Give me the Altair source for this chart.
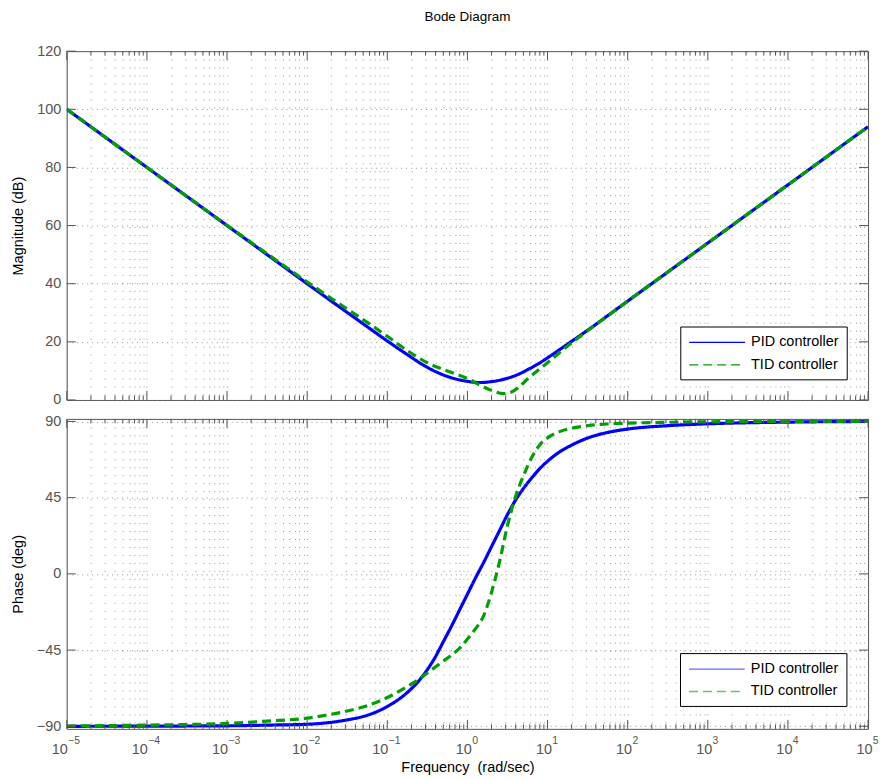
import altair as alt
import pandas as pd

# ---------------- data ----------------
series_names = ["PID controller", "TID controller"]
series_colors = ["#0000ff", "#00a000"]
series_dash = [[1, 0], [9, 5]]

# magnitude (dB) vs log10(frequency)
mag_logw = [-5, -4, -3, -2.5, -2, -1.5, -1.25, -1, -0.75, -0.5, -0.25, 0, 0.15, 0.3,
            0.45, 0.55, 0.65, 0.75, 0.9, 1.0, 1.25, 1.5, 2, 3, 4, 5]
pid_mag = [100, 80, 60, 50.0, 40.0, 30.1, 25.2, 20.3, 15.6, 11.2, 8.1, 6.4, 6.0, 6.3,
           7.1, 7.9, 9.0, 10.4, 12.7, 14.5, 19.2, 24.0, 34.0, 54.0, 74.0, 94.0]
tid_mag = [100, 80, 60.1, 50.3, 40.6, 31.3, 26.7, 21.9, 17.0, 12.8, 10.0, 7.4, 5.2, 3.3,
           2.2, 2.7, 4.6, 7.2, 10.6, 12.8, 18.6, 23.8, 34.0, 54.0, 74.0, 94.0]

# phase (deg) vs log10(frequency)
phase_logw = [-5, -4, -3, -2.5, -2, -1.75, -1.5, -1.25, -1, -0.75, -0.6, -0.5, -0.4, -0.3,
              -0.2, -0.1, 0, 0.1, 0.2, 0.3, 0.4, 0.5, 0.6, 0.7, 0.8, 0.9, 1.0, 1.15, 1.3,
              1.5, 1.75, 2, 2.5, 3, 4, 5]
pid_phase = [-90, -89.9, -89.7, -89.3, -88.8, -87.9, -86.2, -83.5, -78.3, -70.0, -62.8, -56.5,
             -49.0, -40.0, -31.0, -21.5, -12.0, -2.5, 6.5, 16, 25.5, 35.0, 43.5, 50.5, 56.5,
             62, 66.5, 72, 76, 80.2, 83.5, 85.5, 87.5, 88.6, 89.6, 90]
tid_phase = [-89.8, -89.3, -88.3, -86.9, -85.2, -83.3, -81.0, -77.8, -73.0, -66.5, -62.0,
             -58.5, -55.0, -51.5, -48.0, -44.0, -38.5, -32.5, -25.0, -11.0, 7.0, 28.5, 45.5,
             58.0, 68.5, 76.0, 80.3, 84.0, 86.0, 87.5, 88.5, 89.0, 89.5, 89.8, 90.0, 90.0]

decade_exps = list(range(-5, 6))
tick_base = "10"
tick_exponents = ["−5", "−4", "−3", "−2", "−1", "0", "1", "2", "3", "4", "5"]
minor_mults = [2, 3, 4, 5, 6, 7, 8, 9]
mag_ticks = [0, 20, 40, 60, 80, 100, 120]
phase_ticks = [-90, -45, 0, 45, 90]

# ---------------- tables ----------------
x_major = [10.0 ** e for e in decade_exps]
x_minor = [m * 10.0 ** e for e in decade_exps[:-1] for m in minor_mults]
x_all = sorted(x_major + x_minor)

mag_df = pd.DataFrame({
    "w": [10.0 ** e for e in mag_logw] * 2,
    "val": pid_mag + tid_mag,
    "series": [series_names[0]] * len(mag_logw) + [series_names[1]] * len(mag_logw),
})
phase_df = pd.DataFrame({
    "w": [10.0 ** e for e in phase_logw] * 2,
    "val": pid_phase + tid_phase,
    "series": [series_names[0]] * len(phase_logw) + [series_names[1]] * len(phase_logw),
})
label_df = pd.DataFrame({
    "w": x_major,
    "base": [tick_base] * len(x_major),
    "exp": tick_exponents,
    "neg": [e < 0 for e in decade_exps],
})

# ---------------- style ----------------
FONT = "Liberation Sans"
FRAME = "#555555"
GRID = "#777777"
LABEL = "#555555"
W = 804
H1 = 350
H2 = 311

x_scale = alt.Scale(type="log", domain=[1e-5, 1e5], nice=False)


def legend(lx, ly, opacity):
    return alt.Legend(
        title=None, orient="none", legendX=lx, legendY=ly, direction="vertical",
        fillColor="white", strokeColor="black", padding=8, rowPadding=7.5,
        cornerRadius=0, labelFont=FONT, labelFontSize=14.5, labelColor="black",
        labelOffset=47, symbolType="M-1,0H7", symbolSize=196, symbolStrokeWidth=1.3,
        symbolOpacity=opacity, offset=0,
    )


def panel(df, height, yscale, yvals, ytitle, xaxis, leg, with_labels=False):
    yaxis = alt.Axis(values=yvals, grid=True, gridDash=[1, 4], gridColor=GRID,
                     gridOpacity=0.75, title=ytitle, titleX=-48.7, titleY=height / 2,
                     titleBaseline="middle", titleAngle=-90)
    line = alt.Chart(df).mark_line(strokeWidth=3.2, interpolate="monotone", clip=True).encode(
        x=alt.X("w:Q", scale=x_scale, axis=xaxis),
        y=alt.Y("val:Q", scale=yscale, axis=yaxis),
        color=alt.Color("series:N", scale=alt.Scale(domain=series_names, range=series_colors),
                        legend=leg),
        strokeDash=alt.StrokeDash("series:N", scale=alt.Scale(domain=series_names, range=series_dash),
                                  legend=leg),
    )
    layers = [line]
    maj = pd.DataFrame({"w": x_major})
    mnr = pd.DataFrame({"w": x_minor})
    for tdf, L in [(maj, 9), (mnr, 4.5)]:
        layers.append(alt.Chart(tdf).mark_rule(color=FRAME, strokeWidth=1).encode(
            x=alt.X("w:Q", scale=x_scale, axis=xaxis),
            y=alt.value(0), y2=alt.value(L)))
        layers.append(alt.Chart(tdf).mark_rule(color=FRAME, strokeWidth=1).encode(
            x=alt.X("w:Q", scale=x_scale, axis=xaxis),
            y=alt.value(height), y2=alt.value(height - L)))
    ydf = pd.DataFrame({"val": yvals})
    layers.append(alt.Chart(ydf).mark_rule(color=FRAME, strokeWidth=1).encode(
        y=alt.Y("val:Q", scale=yscale, axis=yaxis), x=alt.value(0), x2=alt.value(9)))
    layers.append(alt.Chart(ydf).mark_rule(color=FRAME, strokeWidth=1).encode(
        y=alt.Y("val:Q", scale=yscale, axis=yaxis), x=alt.value(W), x2=alt.value(W - 9)))
    if with_labels:
        # "10" with a raised exponent, MATLAB style
        for neg, shift in [(True, 1), (False, 4.5)]:
            sub = label_df[label_df["neg"] == neg]
            layers.append(alt.Chart(sub).mark_text(
                align="right", baseline="alphabetic", font=FONT, fontSize=14.5,
                color=LABEL, dx=shift).encode(
                x=alt.X("w:Q", scale=x_scale, axis=xaxis),
                y=alt.value(height + 24.8), text="base:N"))
            layers.append(alt.Chart(sub).mark_text(
                align="left", baseline="alphabetic", font=FONT, fontSize=10.5,
                color=LABEL, dx=shift + 0.3).encode(
                x=alt.X("w:Q", scale=x_scale, axis=xaxis),
                y=alt.value(height + 15.5), text="exp:N"))
    return alt.layer(*layers).properties(width=W, height=height)


top_xaxis = alt.Axis(values=x_all, labels=False, ticks=False, domain=False, grid=True,
                     gridDash=[1, 7], gridColor=GRID, gridOpacity=0.75, title=None)
bot_xaxis = alt.Axis(values=x_all, labels=False, ticks=False, domain=False, grid=True,
                     gridDash=[1, 7], gridColor=GRID, gridOpacity=0.75,
                     title="Frequency \u00a0(rad/sec)", titlePadding=32)

top = panel(mag_df, H1, alt.Scale(domain=[0, 120], nice=False), mag_ticks, "Magnitude (dB)",
            top_xaxis, legend(615.6, 276.3, 1.0)).properties(
    title=alt.TitleParams("Bode Diagram", font=FONT, fontSize=13.5, fontWeight="normal",
                          color="black", anchor="middle", frame="group", offset=20))
bottom = panel(phase_df, H2, alt.Scale(domain=[-91.5, 91.5], nice=False), phase_ticks,
               "Phase (deg)", bot_xaxis, legend(615.3, 235, 0.6), with_labels=True)

chart = alt.vconcat(top, bottom, spacing=6).resolve_scale(
    color="independent", strokeDash="independent"
).resolve_legend(
    color="independent", strokeDash="independent"
).configure_view(
    stroke=FRAME, strokeWidth=1
).configure_axis(
    labelFont=FONT, labelFontSize=14.5, labelColor=LABEL, titleFont=FONT,
    titleFontSize=14.5, titleColor="black", titleFontWeight="normal", tickSize=0,
    labelPadding=6,
).properties(
    padding={"left": 9, "top": 8, "right": 5, "bottom": 5}
)

chart.save("out.html", embed_options={"renderer": "svg", "actions": False})
